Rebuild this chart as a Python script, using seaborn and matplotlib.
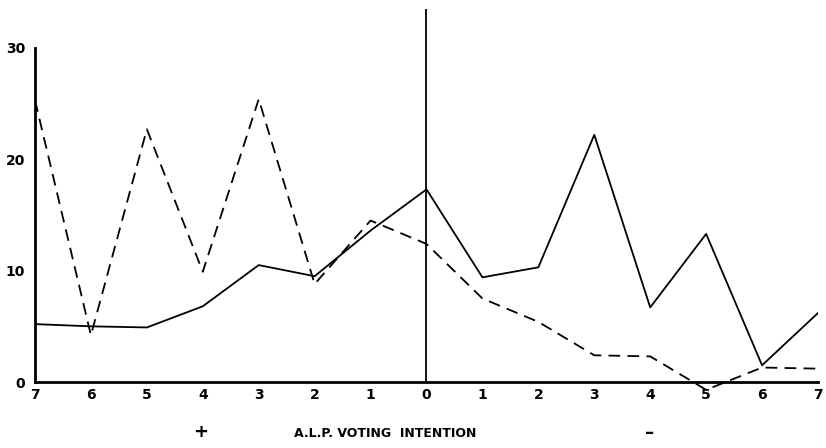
import matplotlib
matplotlib.use("Agg")
import matplotlib.pyplot as plt
import seaborn as sns
import pandas as pd
import numpy as np

tick_labels = ["7", "6", "5", "4", "3", "2", "1", "0", "1", "2", "3", "4", "5", "6", "7"]
solid_vals = [5.2, 5.0, 4.9, 6.8, 10.5, 9.5, 13.6, 17.3, 9.4, 10.3, 22.2, 6.7, 13.3, 1.5, 6.2]
dashed_vals = [25.3, 4.2, 22.7, 9.9, 25.4, 8.8, 14.5, 12.4, 7.5, 5.4, 2.4, 2.3, -0.7, 1.3, 1.2]
y_ticks = [0, 10, 20, 30]

pos = list(range(len(tick_labels)))
df = pd.DataFrame({
    "pos": pos * 2,
    "value": solid_vals + dashed_vals,
    "series": ["solid"] * len(pos) + ["dashed"] * len(pos),
})

sns.set_theme(style="white")
plt.rcParams["font.family"] = ["DejaVu Sans"]
plt.rcParams["text.color"] = "black"

fig = plt.figure(figsize=(8.26, 4.48), dpi=100)
ax = fig.add_axes([35 / 826, 0.110, (818 - 35) / 826, 0.870])

sns.lineplot(data=df, x="pos", y="value", style="series",
             dashes={"solid": "", "dashed": (6.5, 4)},
             color="black", linewidth=1.3, legend=False, ax=ax,
             estimator=None, sort=False)

ax.set_xlim(0, 14)
ax.set_ylim(-1.5, 33.5)

for s in ["top", "right"]:
    ax.spines[s].set_visible(False)
ax.spines["bottom"].set_position(("data", 0))
ax.spines["left"].set_bounds(0, 30)
for s in ["bottom", "left"]:
    ax.spines[s].set_color("black")
    ax.spines[s].set_linewidth(2.0)

ax.axvline(7, ymin=(0 + 1.5) / 35, ymax=1.0, color="black", linewidth=1.3)

ax.set_xticks(pos)
ax.set_xticklabels(tick_labels, fontsize=10, fontweight="bold")
ax.set_yticks(y_ticks)
ax.set_yticklabels([str(v) for v in y_ticks], fontsize=10, fontweight="bold")
ax.tick_params(axis="x", direction="in", length=5, width=1.2, colors="black", pad=4)
ax.tick_params(axis="y", direction="out", length=5, width=1.2, colors="black", pad=2)
ax.set_xlabel("")
ax.set_ylabel("")
ax.grid(False)

fig.text(201 / 826, 1 - 432 / 448, "+", ha="center", va="center", fontsize=13,
         fontweight="bold", color="black")
fig.text(385 / 826, 1 - 433 / 448, "A.L.P. VOTING  INTENTION", ha="center", va="center",
         fontsize=9, fontweight="semibold", color="black")
fig.text(650 / 826, 1 - 433 / 448, "–", ha="center", va="center", fontsize=13,
         fontweight="bold", color="black")

fig.savefig("out.png", dpi=100, facecolor="white")
